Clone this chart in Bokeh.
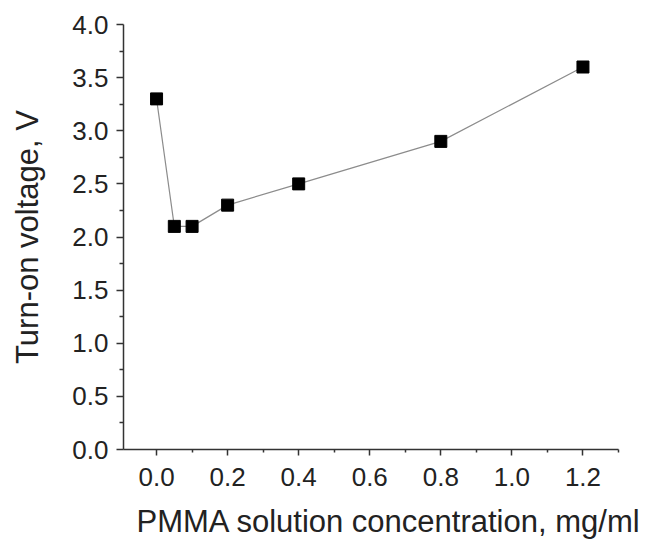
from bokeh.plotting import figure
from bokeh.models import Range1d, FixedTicker, ColumnDataSource, PrintfTickFormatter, Title
from bokeh.embed import file_html
from bokeh.resources import INLINE

# Data
conc = [0.0, 0.05, 0.1, 0.2, 0.4, 0.8, 1.2]
voltage = [3.3, 2.1, 2.1, 2.3, 2.5, 2.9, 3.6]

x_major = [0.0, 0.2, 0.4, 0.6, 0.8, 1.0, 1.2]
x_minor = [0.1, 0.3, 0.5, 0.7, 0.9, 1.1, 1.3]
y_major = [0.0, 0.5, 1.0, 1.5, 2.0, 2.5, 3.0, 3.5, 4.0]
y_minor = [0.25, 0.75, 1.25, 1.75, 2.25, 2.75, 3.25, 3.75]

x_label = "PMMA solution concentration, mg/ml"
y_label = "Turn-on voltage, V"

FONT = "Liberation Sans"

src = ColumnDataSource(data=dict(x=conc, y=voltage))

p = figure(width=646, height=552, output_backend="svg", toolbar_location=None,
           x_range=Range1d(-0.093, 1.3), y_range=Range1d(0, 4.0),
           min_border_left=123, min_border_right=28, min_border_top=24,
           min_border_bottom=103)

p.line("x", "y", source=src, line_color="#8c8c8c", line_width=1.2)
p.scatter("x", "y", source=src, marker="square", size=12, fill_color="black",
          line_color="black")

p.grid.visible = False
p.outline_line_color = None

for ax in (p.xaxis[0], p.yaxis[0]):
    ax.axis_line_color = "#333333"
    ax.axis_line_width = 1.5
    ax.major_tick_line_color = "#333333"
    ax.minor_tick_line_color = "#333333"
    ax.major_tick_line_width = 1.5
    ax.minor_tick_line_width = 1.5
    ax.major_tick_in = 0
    ax.minor_tick_in = 0
    ax.major_label_text_font = FONT
    ax.major_label_text_font_size = "26px"
    ax.major_label_text_color = "#222222"
    ax.axis_label_text_font = FONT
    ax.axis_label_text_font_size = "31px"
    ax.axis_label_text_font_style = "normal"
    ax.axis_label_text_color = "#222222"
    ax.formatter = PrintfTickFormatter(format="%.1f")

p.xaxis.ticker = FixedTicker(ticks=x_major, minor_ticks=x_minor)
p.yaxis.ticker = FixedTicker(ticks=y_major, minor_ticks=y_minor)

p.xaxis.major_tick_out = 6
p.xaxis.minor_tick_out = 3
p.yaxis.major_tick_out = 7
p.yaxis.minor_tick_out = 4

p.xaxis.major_label_standoff = 12
p.yaxis.major_label_standoff = 8
p.yaxis.axis_label = y_label
p.yaxis.axis_label_standoff = 24

# x-axis title, set slightly right of the frame centre as in the reference
p.add_layout(Title(text=x_label, align="left", offset=13, standoff=27,
                   text_font=FONT, text_font_size="31px",
                   text_font_style="normal", text_color="#222222"), "below")

open("out.html", "w").write(file_html(p, INLINE))
